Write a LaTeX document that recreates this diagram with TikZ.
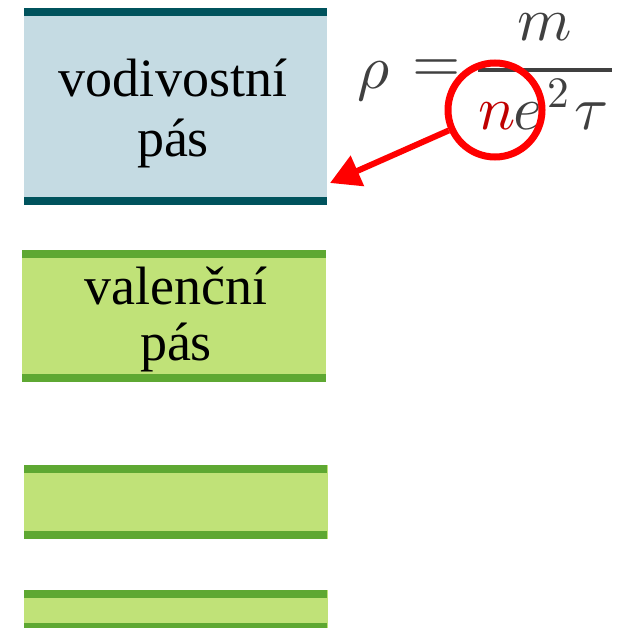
\documentclass[tikz,border=0pt]{standalone}
\usepackage{fontspec}
\usepackage{unicode-math}
\setmainfont{Liberation Serif}
\setmathfont{Latin Modern Math}
\usetikzlibrary{arrows.meta}
\definecolor{teal1}{HTML}{00535D}
\definecolor{blue1}{HTML}{C5DBE3}
\definecolor{green1}{HTML}{5EA832}
\definecolor{green2}{HTML}{C0E278}
\definecolor{fgray}{HTML}{404040}
\definecolor{nred}{HTML}{C00000}
\definecolor{ared}{HTML}{FF0000}
\tikzset{
  bandc/.style={draw=none, fill=blue1, inner sep=0pt, minimum width=303pt, anchor=north west},
  bandv/.style={draw=none, fill=green2, inner sep=0pt, minimum width=304pt, anchor=north west},
  tbar/.style={line width=8pt, teal1},
  gbar/.style={line width=8pt, green1},
  lbl/.style={font=\fontsize{54}{60}\selectfont, align=center, inner sep=0pt, text=black},
  mth/.style={font=\fontsize{62}{62}\selectfont, text=fgray, inner sep=0pt},
}
\begin{document}
\begin{tikzpicture}[x=1pt,y=-1pt]
\useasboundingbox (0,0) rectangle (625,628);
% conduction band
\node[bandc, minimum height=197pt] (cb) at (24,8) {};
\draw[tbar] (cb.north west) ++(0,4) -- ++(303,0);
\draw[tbar] (cb.south west) ++(0,-4) -- ++(303,0);
\node[lbl, anchor=base] (cbt1) at (173,97) {vodivostní};
\node[lbl, anchor=base] (cbt2) at (173,157) {pás};
% valence band
\node[bandv, minimum height=132pt] (vb) at (22,250) {};
\draw[gbar] (vb.north west) ++(0,4) -- ++(304,0);
\draw[gbar] (vb.south west) ++(0,-4) -- ++(304,0);
\node[lbl, anchor=base] (vbt1) at (176,304) {valenční};
\node[lbl, anchor=base] (vbt2) at (176,360) {pás};
% lower band 1
\node[bandv, minimum height=74pt] (lb1) at (24,465) {};
\draw[gbar] (lb1.north west) ++(0,4) -- ++(303,0);
\draw[gbar] (lb1.south west) ++(0,-4) -- ++(303,0);
% lower band 2
\node[bandv, minimum height=41pt] (lb2) at (24,590) {};
\draw[gbar] (lb2.north west) ++(0,4) -- ++(303,0);
\draw[gbar] (lb2.south west) ++(0,-4) -- ++(303,0);
% formula
\node[mth, anchor=base west] (rho) at (357,89) {$\rho$};
\node[mth, anchor=center] (eq) at (437,71) {$=$};
\node[mth, anchor=base, text height=27pt] (num) at (545,41) {$m$};
\node[mth, anchor=base west] (den) at (478,130) {$\textcolor{nred}{n}\kern-2pt e^{\kern5pt 2}\kern5pt\tau$};
\draw[line width=4.5pt, fgray] (478,70) -- (612,70);
% highlight
\node[draw=ared, line width=7pt, circle, minimum size=94pt, inner sep=0pt] (circ) at (495,110) {};
\coordinate (tip) at (330,183);
\draw[ared, line width=6pt, -{Triangle[length=30pt,width=32pt]}] (circ) -- (tip);
\end{tikzpicture}
\end{document}
